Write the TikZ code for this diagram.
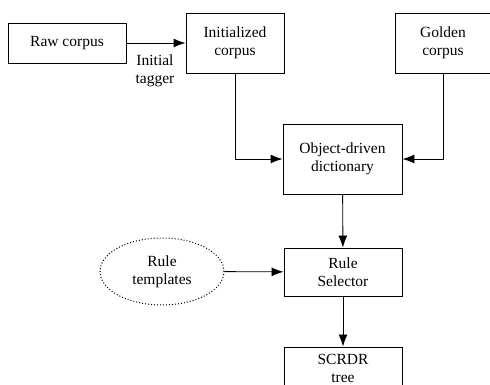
\documentclass[tikz,border=0pt]{standalone}
\usepackage{fontspec}
\setmainfont{Liberation Serif}
\usetikzlibrary{arrows.meta,shapes.geometric}

\begin{document}
\begin{tikzpicture}[x=1pt,y=1pt,line width=.9pt,
  font=\fontsize{15.5}{18}\selectfont,
  box/.style={draw,align=center,inner sep=0pt},
  tmpl/.style={draw,ellipse,dotted,line width=1pt,align=center,inner sep=0pt,minimum width=124pt,minimum height=67pt},
  arr/.style={-{Latex[length=12pt,width=9pt]}}]
\useasboundingbox (0,0) rectangle (490,385);
\node[box,minimum width=118pt,minimum height=40pt] (raw) at (67,342) {Raw corpus};
\node[box,minimum width=98pt,minimum height=60pt] (init) at (235,342) {Initialized\\corpus};
\node[box,minimum width=96pt,minimum height=60pt] (gold) at (443,342) {Golden\\corpus};
\node[box,minimum width=119pt,minimum height=70pt] (odd) at (342.5,226) {Object-driven\\dictionary};
\node[box,minimum width=118pt,minimum height=48pt] (rs) at (343,113) {Rule\\Selector};
\node[tmpl] (tpl) at (162,113.5) {Rule\\templates};
\node[box,minimum width=118pt,minimum height=42pt] (tree) at (343,17) {SCRDR\\tree};
\node[align=center] (tagger) at (155,314) {Initial\\tagger};
\draw[arr] (raw) -- (init);
\draw[arr] (init.south) |- (odd.west);
\draw[arr] (gold.south) |- (odd.east);
\draw[arr] (odd) -- (rs);
\draw[arr] (tpl) -- (rs);
\draw[arr] (rs) -- (tree);
\end{tikzpicture}
\end{document}
